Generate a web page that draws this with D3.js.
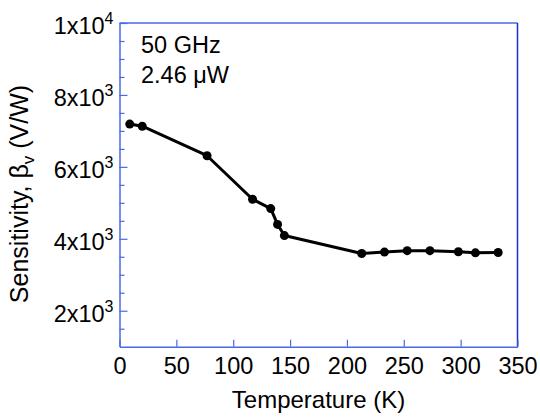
<!DOCTYPE html>
<html>
<head>
<meta charset="utf-8">
<script src="https://cdn.jsdelivr.net/npm/d3@7"></script>
<style>
  body { margin: 0; background: #fff; }
  svg { display: block; }
  text { font-family: "Liberation Sans", Arial, sans-serif; fill: #000; }
</style>
</head>
<body>
<svg id="chart" width="540" height="418"></svg>
<script>
// Data
const temperature = [9, 20, 77, 117, 133, 139, 145, 213, 233, 253, 273, 298, 313, 333];
const sensitivity = [7190, 7130, 6310, 5100, 4840, 4400, 4090, 3590, 3630, 3670, 3670, 3640, 3610, 3620];
const xTicks = [0, 50, 100, 150, 200, 250, 300, 350];
const yMajorTicks = [2000, 4000, 6000, 8000, 10000];
const yMinorTicks = [1500, 2500, 3000, 3500, 4500, 5000, 5500, 6500, 7000, 7500, 8500, 9000, 9500];
const annotation = ["50 GHz", "2.46 \u03BCW"];

(function () {
const svg = d3.select("#chart");
const pL = 119.5, pR = 517.5, pT = 23, pB = 346.7;
const x = d3.scaleLinear().domain([0, 350]).range([pL, pR]);
const y = d3.scaleLinear().domain([1000, 10000]).range([pB, pT]);

const axisLight = "#4a68ea";
const axisDark = "#1b2ccc";
const FS = 23.5;

// frame: top and right
svg.append("line").attr("x1", pL).attr("x2", pR).attr("y1", pT).attr("y2", pT)
  .attr("stroke", axisLight).attr("stroke-width", 1.5);
svg.append("line").attr("x1", pR).attr("x2", pR).attr("y1", pT).attr("y2", pB)
  .attr("stroke", axisDark).attr("stroke-width", 1.5);

// x axis
const gx = svg.append("g").attr("transform", `translate(0,${pB})`)
  .call(d3.axisBottom(x).tickValues(xTicks).tickSizeInner(-7).tickSizeOuter(0).tickPadding(11).tickFormat(d3.format("d")));
gx.select(".domain").attr("stroke", axisLight).attr("stroke-width", 1.5);
gx.selectAll(".tick line").attr("stroke", axisLight).attr("stroke-width", 1.2);
gx.selectAll(".tick text").attr("font-size", FS).attr("font-family", "Liberation Sans, Arial, sans-serif").attr("fill", "#000");

// y axis minor
const gym = svg.append("g").attr("transform", `translate(${pL},0)`)
  .call(d3.axisLeft(y).tickValues(yMinorTicks).tickSizeInner(-5).tickSizeOuter(0).tickFormat(""));
gym.select(".domain").remove();
gym.selectAll(".tick line").attr("stroke", axisLight).attr("stroke-width", 1.2);

// y axis major
const gy = svg.append("g").attr("transform", `translate(${pL},0)`)
  .call(d3.axisLeft(y).tickValues(yMajorTicks).tickSizeInner(-8).tickSizeOuter(0).tickPadding(6).tickFormat(""));
gy.select(".domain").attr("stroke", axisLight).attr("stroke-width", 1.5);
gy.selectAll(".tick line").attr("stroke", axisLight).attr("stroke-width", 1.2);
gy.selectAll(".tick text").each(function(d) {
  const exp = Math.floor(Math.log10(d) + 1e-9);
  const mant = Math.round(d / Math.pow(10, exp));
  const t = d3.select(this)
    .attr("x", -6).attr("dy", "0.45em")
    .attr("font-size", FS).attr("text-anchor", "end")
    .attr("font-family", "Liberation Sans, Arial, sans-serif").attr("fill", "#000");
  t.text(null);
  t.append("tspan").text(mant + "x10");
  t.append("tspan").attr("dy", -10).attr("font-size", 16).text(exp);
});

// line and markers
const pts = temperature.map((t, i) => [t, sensitivity[i]]);
svg.append("path").datum(pts)
  .attr("fill", "none").attr("stroke", "#000").attr("stroke-width", 3)
  .attr("stroke-linejoin", "round")
  .attr("d", d3.line().x(d => x(d[0])).y(d => y(d[1])));
svg.append("g").selectAll("circle").data(pts).join("circle")
  .attr("cx", d => x(d[0])).attr("cy", d => y(d[1])).attr("r", 4.5).attr("fill", "#000");

// annotation
svg.append("g").selectAll("text").data(annotation).join("text")
  .attr("x", 141).attr("y", (d, i) => 53 + i * 30)
  .attr("font-size", FS).text(d => d);

// axis titles
svg.append("text").attr("x", (pL + pR) / 2).attr("y", 408)
  .attr("text-anchor", "middle").attr("font-size", 24).text("Temperature (K)");

const yl = svg.append("text")
  .attr("transform", `translate(28,194) rotate(-90)`)
  .attr("text-anchor", "middle").attr("font-size", 25);
yl.append("tspan").text("Sensitivity, \u03B2");
yl.append("tspan").attr("dy", 6).attr("font-size", 17).text("v");
yl.append("tspan").attr("dy", -6).text(" (V/W)");
})();
</script>
</body>
</html>
